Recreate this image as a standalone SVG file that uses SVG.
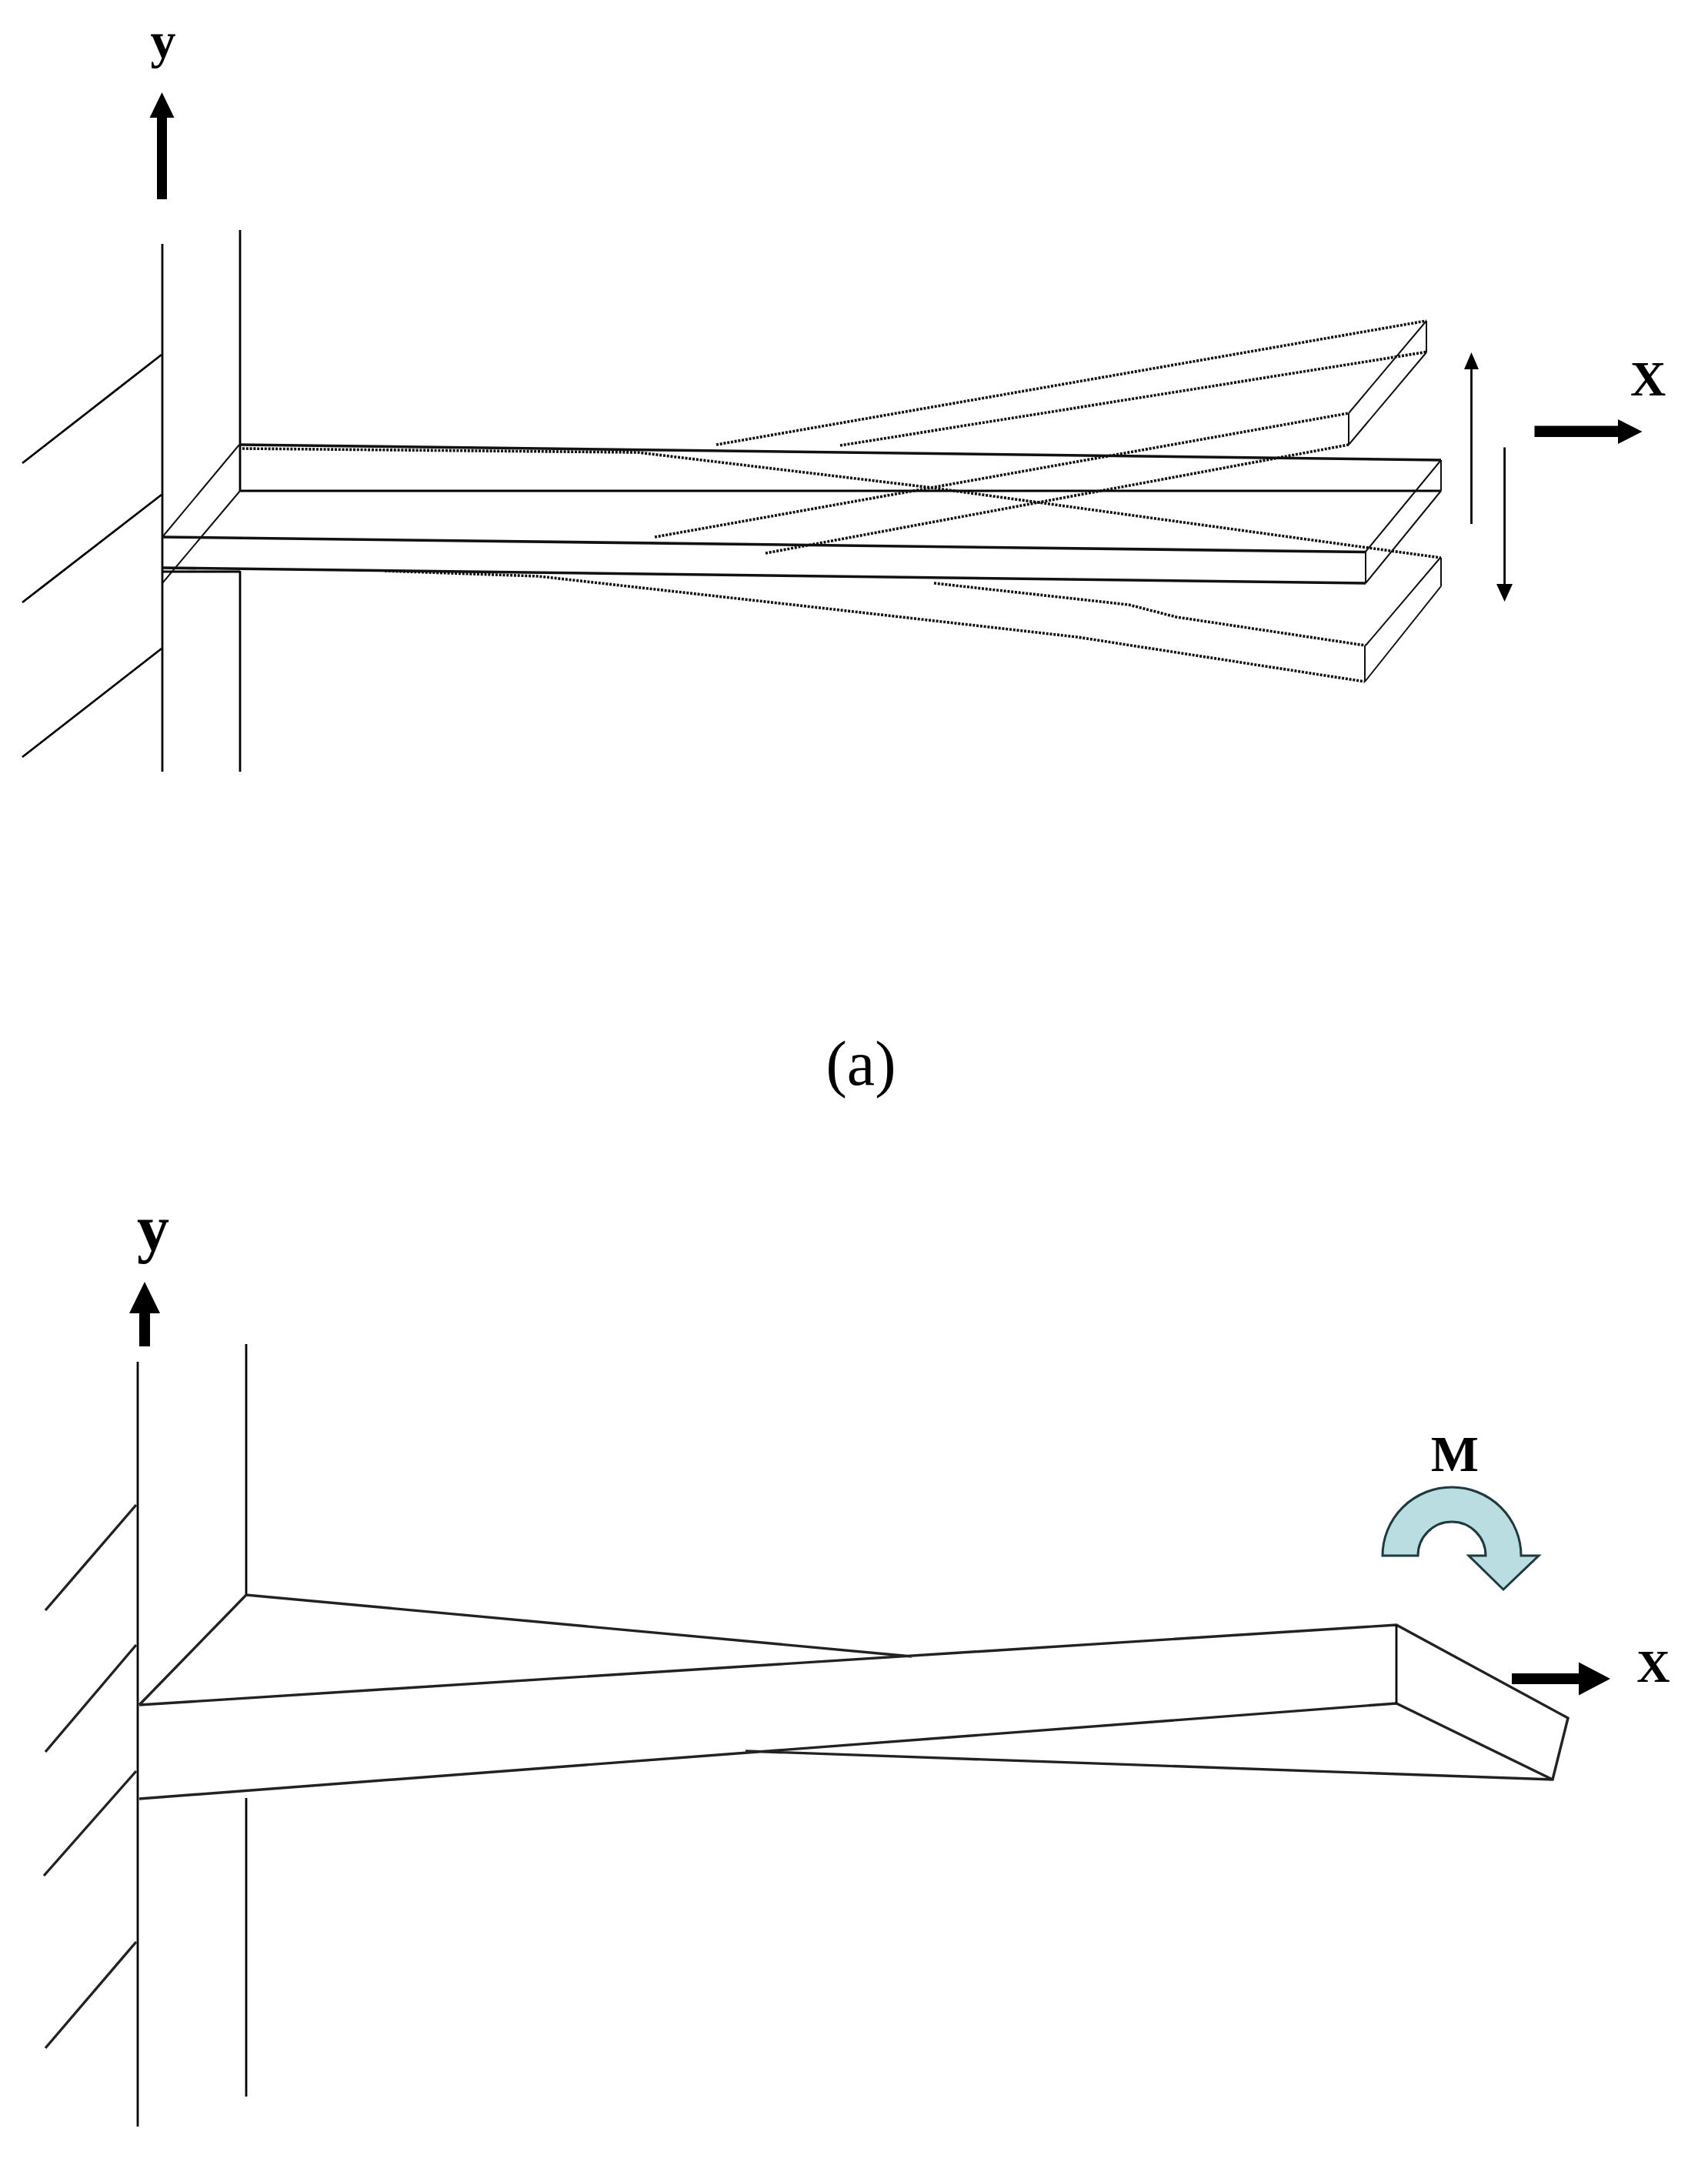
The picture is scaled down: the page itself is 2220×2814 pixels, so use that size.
<svg xmlns="http://www.w3.org/2000/svg" width="2220" height="2814" viewBox="0 0 2220 2814">
<style>
.l{stroke:#000;stroke-width:2.8;fill:none;stroke-linecap:butt}
.h{stroke:#111;stroke-width:3.6;fill:none}
.d{stroke:#111;stroke-width:3.6;fill:none;stroke-dasharray:3 1.8}
.t{stroke:#111;stroke-width:2;fill:none}
.b{stroke:#222;stroke-width:3.4;fill:none}
.f{fill:#000;stroke:none}
text{font-family:"Liberation Serif","Times New Roman",serif;fill:#000;text-anchor:middle}
.bold{font-weight:bold}
</style>
<rect width="2220" height="2814" fill="#fff"/>
<g id="figure-a">
  <g id="a-wall">
    <path class="l" d="M211,317V1003M312,299V638M312,742V1003"/>
    <path class="l" d="M210,461L29,602M210,643L29,783M210,843L29,984"/>
    <path class="l" d="M211,743H312"/>
  </g>
  <g id="a-beam">
    <path class="h" d="M311,578L1873,598M211,698L1775,717.500M211,738L1775,758"/>
    <path class="l" d="M312,638H1873"/>
    <path class="t" d="M211,698L311,578M211,758L312,638M1775,717L1873,598M1775,758L1873,638M1775,717V758M1873,598V638"/>
  </g>
  <g id="a-beam-up">
    <path class="d" d="M931,578L1854,417M1092,579L1854,457.500M851,698L1753,537M995,719L1753,578"/>
    <path class="t" d="M1753,537L1854,417M1753,578L1854,458M1753,537V578M1854,417V458"/>
  </g>
  <g id="a-beam-down">
    <path class="d" d="M315,583L829,588L1204,633L1873,725M1214,758L1467,786L1529,802L1775,839M500,742L700,749L1057,789L1400,828L1774,886"/>
    <path class="t" d="M1775,839L1872,725M1774,886L1873,762M1774,839V886M1873,725V762"/>
  </g>
  <g id="a-arrows">
    <path class="f" d="M204,259V153H194.500L210.500,120L226.500,153H217V259Z"/>
    <path class="f" d="M1994.500,553.500H2103V545L2134.500,561L2103,577V568H1994.500Z"/>
    <path class="l" d="M1912.500,470V681M1955.600,581.500V765"/>
    <path class="f" d="M1912.500,458L1903,480H1922ZM1955.600,782L1945,759H1966Z"/>
  </g>
  <text class="bold" x="212" y="75" font-size="66">y</text>
  <text class="bold" x="2142" y="514" font-size="64">X</text>
  <text x="1119" y="1410" font-size="82">(a)</text>
</g>
<g id="figure-b">
  <g id="b-wall">
    <path class="l" d="M179,1770V2764M320,1747V2073M320,2337V2725"/>
    <path class="b" d="M177,1956L59,2093M177,2138L59,2277M177,2302L57,2438M177,2524L59,2662"/>
  </g>
  <g id="b-beam">
    <path class="b" d="M181,2216L320,2073L1185,2153M181,2216L1815,2112L2038,2233L2018,2313L969,2276M181,2338L1815,2214L2018,2313"/>
    <path class="l" d="M1815,2112V2214"/>
  </g>
  <g id="b-arrows">
    <path class="f" d="M181,1750V1707H168L188,1666L208,1707H195V1750Z"/>
    <path class="f" d="M1965,2175H2052V2160.500L2093,2182L2052,2203.500V2189H1965Z"/>
  </g>
  <g id="b-moment">
    <path d="M1797,2022A90,89 0 0 1 1977,2022L2000,2022L1954,2066L1909,2022L1931,2022A44,44 0 0 0 1843,2022Z" fill="#b9dde1" stroke="#1d3a3e" stroke-width="3"/>
  </g>
  <text class="bold" x="199" y="1625" font-size="84">y</text>
  <text class="bold" x="1891" y="1912" font-size="66">M</text>
  <text class="bold" x="2149" y="2186" font-size="60">X</text>
</g>
</svg>
